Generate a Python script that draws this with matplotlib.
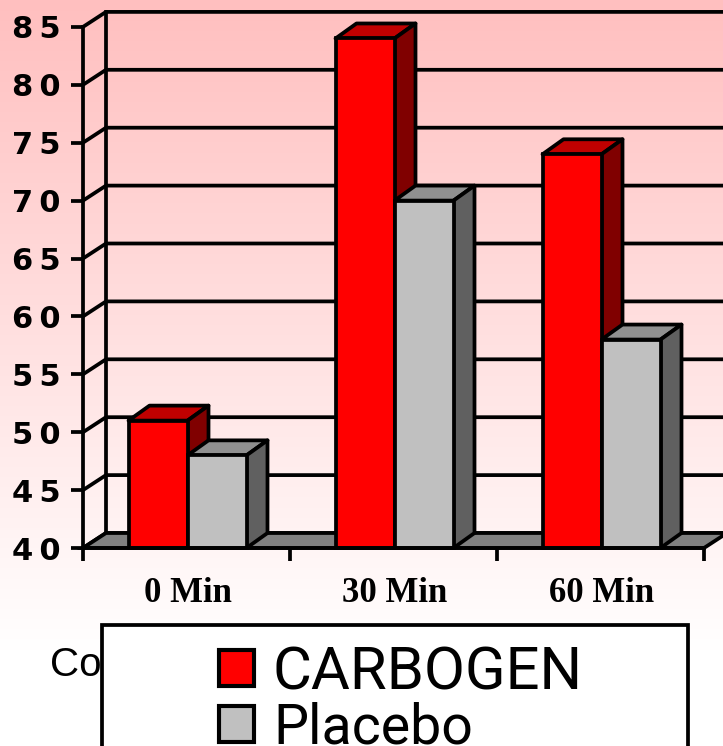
import numpy as np
import matplotlib
matplotlib.use('Agg')
from matplotlib import pyplot, patches

categories = ['0 Min', '30 Min', '60 Min']
carbogen = [51, 84, 74]
placebo = [48, 70, 58]
y_ticks = [40, 45, 50, 55, 60, 65, 70, 75, 80, 85]

WIDTH = 723
HEIGHT = 746
LW = 2.7

figure = pyplot.figure(figsize=(WIDTH / 100, HEIGHT / 100), dpi=100)

# background gradient, pink at the top fading to white
bg = figure.add_axes([0, 0, 1, 1], zorder=0)
bg.set_axis_off()
fade = 191 / 255 + (1 - 191 / 255) * np.clip(np.linspace(0, HEIGHT, HEIGHT) / 650, 0, 1)
gradient = np.ones((HEIGHT, 1, 3))
gradient[:, 0, 1] = fade
gradient[:, 0, 2] = fade
bg.imshow(gradient, aspect='auto', extent=(0, 1, 0, 1))

# main axes fill the figure, scaled so the front plane lands where it should
ax = figure.add_axes([0, 0, 1, 1], zorder=1)
ax.patch.set_alpha(0)
cat_px = 207.0
val_px = 11.58
ax.set_xlim(-83 / cat_px, (WIDTH - 83) / cat_px)
ax.set_ylim(40 - (HEIGHT - 548) / val_px, 40 + 548 / val_px)

wall_dx = 23 / cat_px
wall_dy = 15 / val_px
bar_dx = 21 / cat_px
bar_dy = 15 / val_px
bar_width = 59 / cat_px
x_right = WIDTH / cat_px

# floor
ax.add_patch(patches.Polygon([(0, 40), (3, 40), (3 + wall_dx, 40 + wall_dy), (wall_dx, 40 + wall_dy)],
                             facecolor='#808080', edgecolor='black', linewidth=LW, zorder=2))

# walls and gridlines
for value in y_ticks:
    ax.plot([0, wall_dx, x_right], [value, value + wall_dy, value + wall_dy],
            color='black', linewidth=LW, zorder=1, solid_capstyle='butt')
ax.plot([wall_dx, wall_dx], [40 + wall_dy, 85 + wall_dy], color='black', linewidth=LW, zorder=1)


def draw_bar_sides(left, value, front, top, side):
    right = left + bar_width
    ax.add_patch(patches.Polygon([(left, value), (right, value), (right + bar_dx, value + bar_dy),
                                  (left + bar_dx, value + bar_dy)],
                                 facecolor=top, edgecolor='black', linewidth=LW, zorder=3, joinstyle='round'))
    ax.add_patch(patches.Polygon([(right, 40), (right + bar_dx, 40 + bar_dy), (right + bar_dx, value + bar_dy),
                                  (right, value)],
                                 facecolor=side, edgecolor='black', linewidth=LW, zorder=3, joinstyle='round'))
    ax.bar(left, value - 40, width=bar_width, bottom=40, align='edge', color=front,
           edgecolor='black', linewidth=LW, zorder=4)


for index in range(len(categories)):
    center = index + 0.5 + 1 / cat_px
    draw_bar_sides(center - bar_width, carbogen[index], '#FF0000', '#C00000', '#800000')
for index in range(len(categories)):
    center = index + 0.5 + 1 / cat_px
    draw_bar_sides(center, placebo[index], '#C0C0C0', '#909090', '#606060')

# front axes
for side in ['top', 'right']:
    ax.spines[side].set_visible(False)
ax.spines['left'].set_position(('data', 0))
ax.spines['left'].set_bounds(40, 85)
ax.spines['bottom'].set_position(('data', 40))
ax.spines['bottom'].set_bounds(0, 3)
ax.spines['left'].set_linewidth(LW)
ax.spines['bottom'].set_linewidth(LW)
ax.spines['left'].set_zorder(5)
ax.spines['bottom'].set_zorder(5)

ax.set_yticks(y_ticks)
ax.set_yticklabels(['\u2009'.join(str(value)) for value in y_ticks],
                   fontname='DejaVu Sans', fontweight='bold', fontsize=22)
ax.tick_params(axis='y', length=9, width=LW, pad=7)
ax.set_xticks([0, 1, 2, 3])
ax.set_xticklabels([])
ax.tick_params(axis='x', length=9, width=LW)
ax.set_xticks([i + 0.5 + 1 / cat_px for i in range(len(categories))], labels=categories, minor=True,
              fontname='Liberation Serif', fontweight='bold', fontsize=25)
ax.tick_params(axis='x', which='minor', length=0, pad=21)


def px(x, y):
    return x / WIDTH, 1 - y / HEIGHT


# clipped axis title behind the legend box
figure.text(*px(50, 665), 'Co', fontname='Liberation Sans', fontsize=29, va='center', ha='left', zorder=2)

# legend box runs off the bottom of the picture
overlay = figure.add_axes([0, 0, 1, 1], zorder=3)
overlay.set_axis_off()
overlay.set_xlim(0, WIDTH)
overlay.set_ylim(HEIGHT, 0)
overlay.add_patch(patches.Rectangle((102, 625), 586, 140, facecolor='white', edgecolor='black', linewidth=LW))
overlay.add_patch(patches.Rectangle((219, 650), 35, 36, facecolor='#FF0000', edgecolor='black', linewidth=LW * 1.1))
overlay.add_patch(patches.Rectangle((219, 706), 35, 36, facecolor='#C0C0C0', edgecolor='black', linewidth=LW * 1.1))
overlay.text(273, 689, 'CARBOGEN', fontname='Roboto', fontsize=43, va='baseline', ha='left')
overlay.text(273, 744, 'Placebo', fontname='Roboto', fontsize=40, va='baseline', ha='left')

figure.savefig('out.png', dpi=100)
